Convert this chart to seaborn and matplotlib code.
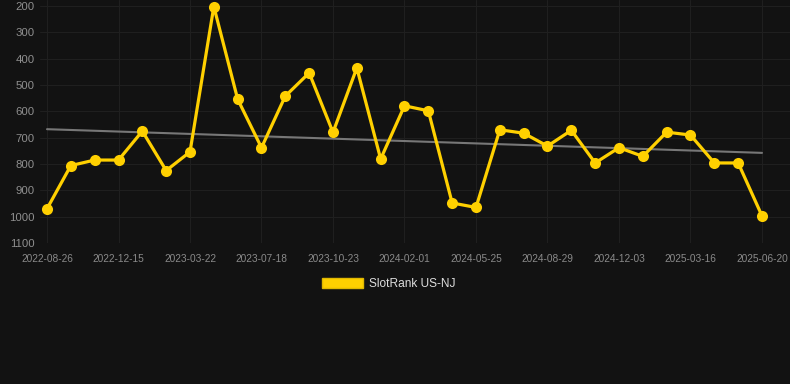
import numpy as np
import pandas as pd
import matplotlib
matplotlib.use('Agg')
import matplotlib.pyplot as plt
import matplotlib.patches as mpatches
import seaborn as sns

# ---------------- datos ----------------
rank = [970, 806, 785, 785, 675, 825, 754, 202, 554, 738,
        542, 454, 680, 435, 781, 579, 598, 948, 965, 670,
        683, 732, 672, 796, 738, 771, 679, 690, 796, 796, 997]
tick_labels = ['2022-08-26', '2022-12-15', '2023-03-22', '2023-07-18',
               '2023-10-23', '2024-02-01', '2024-05-25', '2024-08-29',
               '2024-12-03', '2025-03-16', '2025-06-20']
serie = 'SlotRank US-NJ'

df = pd.DataFrame({'pos': range(len(rank)), 'rank': rank})

# tendencia lineal
coef = np.polyfit(df['pos'], df['rank'], 1)
df['trend'] = np.polyval(coef, df['pos'])

# ---------------- estilo ----------------
sns.set_theme(style='dark')
plt.rcParams['font.family'] = ['Liberation Sans', 'DejaVu Sans']
bg = '#121212'
amarillo = '#FFD000'

fig = plt.figure(figsize=(7.9, 3.84), dpi=100, facecolor=bg)
ax = fig.add_axes([40 / 790, 1 - 243 / 384, 750 / 790, 243 / 384])
ax.set_facecolor(bg)

sns.lineplot(data=df, x='pos', y='trend', ax=ax, color='#777777', linewidth=1.5)
sns.lineplot(data=df, x='pos', y='rank', ax=ax, color=amarillo, linewidth=2.3,
             marker='o', markersize=8, markeredgewidth=0)

ax.set_ylim(1100, 200 - 6 / 0.2633)
ax.set_xlim(-7 / 23.83, 30 + 28 / 23.83)
ax.set_yticks(range(200, 1101, 100))
ax.set_xticks(range(0, len(rank), 3))
ax.set_xticklabels(tick_labels)
ax.tick_params(axis='y', colors='#8f8f8f', labelsize=8.2, length=0, pad=4)
ax.tick_params(axis='x', colors='#8a8a8a', labelsize=7.3, length=0, pad=8)
ax.grid(True, color='#1f1f1f', linewidth=0.8)
ax.set_xlabel('')
ax.set_ylabel('')
for s in ax.spines.values():
    s.set_visible(False)

handle = mpatches.Patch(facecolor=amarillo, edgecolor='#e0b800', label=serie)
fig.legend(handles=[handle], loc='center', bbox_to_anchor=(389 / 790, 1 - 284 / 384),
           frameon=False, fontsize=8.6, labelcolor='#dddddd',
           handlelength=3.4, handleheight=1.0, handletextpad=0.5)

fig.savefig('out.png', dpi=100, facecolor=bg)
